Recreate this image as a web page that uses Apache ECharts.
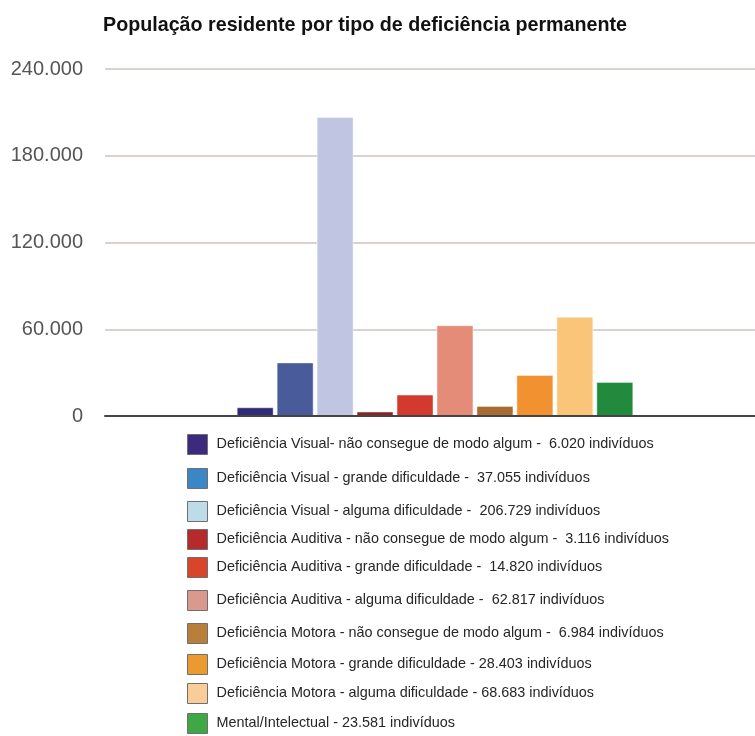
<!DOCTYPE html>
<html lang="pt">
<head>
    <meta charset="UTF-8">
    <title>População residente por tipo de deficiência permanente</title>
    <style>
        html, body { margin: 0; padding: 0; background: #fff; }
        #main { width: 755px; height: 736px; }
    </style>
</head>
<body>
<script src="https://cdn.jsdelivr.net/npm/echarts@6/dist/echarts.min.js"></script>
<div id="main"></div>
<script type="text/javascript">
    // dados
    var nomes = [
        'Deficiência Visual- não consegue de modo algum -  6.020 indivíduos',
        'Deficiência Visual - grande dificuldade -  37.055 indivíduos',
        'Deficiência Visual - alguma dificuldade -  206.729 indivíduos',
        'Deficiência Auditiva - não consegue de modo algum -  3.116 indivíduos',
        'Deficiência Auditiva - grande dificuldade -  14.820 indivíduos',
        'Deficiência Auditiva - alguma dificuldade -  62.817 indivíduos',
        'Deficiência Motora - não consegue de modo algum -  6.984 indivíduos',
        'Deficiência Motora - grande dificuldade - 28.403 indivíduos',
        'Deficiência Motora - alguma dificuldade - 68.683 indivíduos',
        'Mental/Intelectual - 23.581 indivíduos'
    ];
    var valores = [6020, 37055, 206729, 3116, 14820, 62817, 6984, 28403, 68683, 23581];
    var categorias = [''];
    var yTicks = [0, 60000, 120000, 180000, 240000];

    // cores das barras e da legenda (a legenda usa tons diferentes no original)
    var coresBarras = ['#2e2b78', '#4a5b9c', '#c0c6e2', '#8e2323', '#d3392f', '#e48c78', '#a86b31', '#f2912f', '#fbc579', '#228a3d'];
    var coresLegenda = ['#3c2a7d', '#3b87c6', '#bedbe8', '#b52b2b', '#d9452b', '#d9998f', '#b77f3a', '#ea9a31', '#f8cd98', '#3fa845'];
    var legendaTopo = [434, 468, 501, 529, 557, 590, 623, 654, 683, 713];

    function fmt(v) {
        return String(v).replace(/\B(?=(\d{3})+(?!\d))/g, '.');
    }

    var myChart = echarts.init(document.getElementById('main'));

    var series = [];
    var legends = [];
    for (var i = 0; i < nomes.length; i++) {
        series.push({
            name: nomes[i],
            type: 'bar',
            barWidth: 37,
            barGap: '8%',
            data: [valores[i]],
            itemStyle: {
                color: coresBarras[i],
                borderColor: 'rgba(255,255,255,0.45)',
                borderWidth: 1
            }
        });
        legends.push({
            orient: 'vertical',
            left: 187,
            top: legendaTopo[i],
            padding: 0,
            icon: 'rect',
            itemWidth: 20,
            itemHeight: 20,
            selectedMode: false,
            itemStyle: { borderColor: '#6f6f6f', borderWidth: 1 },
            textStyle: {
                fontFamily: 'Liberation Sans, Arial, sans-serif',
                fontSize: 14.4,
                color: '#262626',
                padding: [8, 0, 0, 4]
            },
            data: [{ name: nomes[i], itemStyle: { color: coresLegenda[i] } }]
        });
    }

    myChart.setOption({
        animation: false,
        title: {
            text: 'População residente por tipo de deficiência permanente',
            left: 103,
            top: 16,
            padding: 0,
            textStyle: {
                fontFamily: 'Liberation Sans, Arial, sans-serif',
                fontWeight: 'bold',
                fontSize: 19.7,
                color: '#111'
            }
        },
        legend: legends,
        grid: {
            left: 105,
            right: -10,
            top: 69,
            bottom: 320,
            containLabel: false,
            outerBoundsMode: 'none'
        },
        xAxis: {
            type: 'category',
            data: categorias,
            axisTick: { show: false },
            axisLabel: { show: false },
            axisLine: { show: true, lineStyle: { color: '#444', width: 2 } },
            z: 5
        },
        yAxis: {
            type: 'value',
            min: yTicks[0],
            max: yTicks[yTicks.length - 1],
            interval: 60000,
            axisLine: { show: false },
            axisTick: { show: false },
            splitLine: { lineStyle: { color: '#d9d2ce', width: 2 } },
            axisLabel: {
                margin: 22,
                fontFamily: 'Liberation Sans, Arial, sans-serif',
                fontSize: 20,
                color: '#555',
                formatter: function (v) { return fmt(v); }
            }
        },
        series: series
    });
</script>
</body>
</html>
